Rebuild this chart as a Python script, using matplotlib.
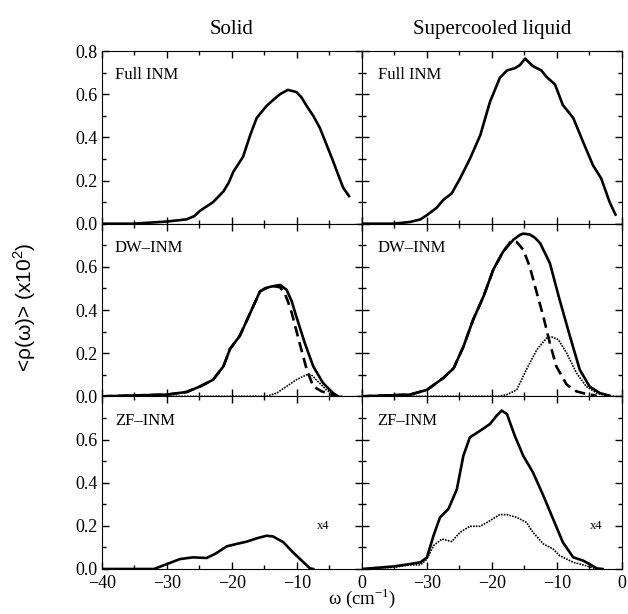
import matplotlib.pyplot as plt
from matplotlib.ticker import MultipleLocator, FixedLocator

plt.rcParams['font.family'] = ['Liberation Serif', 'DejaVu Serif']
plt.rcParams['mathtext.fontset'] = 'custom'
plt.rcParams['mathtext.rm'] = 'Liberation Serif'

# ---- Solid, full INM
s_full_w = [-40, -35.1, -30, -27, -25.8, -24.9, -22.9, -21.3, -20.5, -19.8, -18.3,
            -17.2, -16.2, -14.7, -13.6, -12.6, -11.4, -10.1, -9.3, -8.5, -7.5,
            -6.5, -5.5, -4.45, -3.7, -2.9, -2.0]
s_full_r = [0, 0, 0.01, 0.02, 0.035, 0.06, 0.10, 0.15, 0.19, 0.24, 0.31,
            0.41, 0.49, 0.545, 0.575, 0.60, 0.62, 0.61, 0.585, 0.545, 0.50,
            0.445, 0.37, 0.29, 0.23, 0.167, 0.128]

# ---- Solid, DW-INM (total, dashed part, dotted part)
s_dw_w = [-40, -30, -27, -24.9, -22.9, -21.3, -20.3, -18.8, -17.2, -15.7, -14.9,
          -14.2, -13.4, -12.6, -11.6, -10.8, -10.1, -8.8, -7.5, -6.0, -4.45, -3.7]
s_dw_r = [0, 0.008, 0.02, 0.046, 0.077, 0.14, 0.22, 0.28, 0.386, 0.486, 0.50,
          0.507, 0.512, 0.516, 0.494, 0.44, 0.37, 0.247, 0.139, 0.062, 0.015, 0]
s_dwa_w = [-40, -30, -27, -24.9, -22.9, -21.3, -20.3, -18.8, -17.2, -15.7, -14.9,
           -14.2, -13.4, -12.6, -11.9, -11.4, -10.8, -9.6, -8.5, -7.5, -6.2, -5.0, -4.2]
s_dwa_r = [0, 0.008, 0.02, 0.046, 0.077, 0.14, 0.22, 0.28, 0.386, 0.486, 0.50,
           0.507, 0.51, 0.505, 0.479, 0.44, 0.386, 0.247, 0.124, 0.046, 0.023, 0.012, 0.003]
s_dwb_w = [-40, -14.7, -13.1, -11.6, -10.1, -8.5, -7.8, -6.8, -5.5, -4.0, -3.0]
s_dwb_r = [0, 0, 0.015, 0.046, 0.077, 0.10, 0.10, 0.07, 0.03, 0.003, 0]

# ---- Solid, ZF-INM (x4)
s_zf_w = [-40, -32, -30, -28, -26, -23.9, -22.6, -20.8, -19.3, -17.7, -16.2,
          -14.7, -13.7, -12.1, -10.6, -9.0, -8.0, -7.5]
s_zf_r = [0, 0, 0.023, 0.046, 0.054, 0.051, 0.07, 0.105, 0.116, 0.127, 0.142,
          0.154, 0.151, 0.124, 0.077, 0.031, 0.003, 0]

# ---- Supercooled liquid, full INM
l_full_w = [-40, -35.1, -32.6, -31, -30, -28.5, -27.5, -26.2, -24.9, -23.4, -21.8,
            -20.3, -18.8, -17.7, -16.5, -15.7, -14.9, -14.4, -13.7, -12.4, -11.6,
            -10.3, -9.1, -7.5, -6.0, -4.45, -3.2, -1.9, -1.0]
l_full_r = [0, 0, 0.008, 0.02, 0.04, 0.074, 0.11, 0.14, 0.21, 0.30, 0.41,
            0.565, 0.675, 0.71, 0.72, 0.735, 0.765, 0.75, 0.73, 0.71, 0.68,
            0.645, 0.55, 0.49, 0.38, 0.27, 0.21, 0.10, 0.042]

# ---- Supercooled liquid, DW-INM
l_dw_w = [-40, -32.6, -30, -27.5, -25.9, -24.4, -22.9, -21.3, -19.8, -18.3, -16.7,
          -15.7, -15.2, -14.2, -13.4, -12.6, -11.1, -9.6, -8.0, -6.5, -5.0, -3.4, -1.9]
l_dw_r = [0, 0.008, 0.03, 0.085, 0.13, 0.23, 0.355, 0.463, 0.587, 0.67, 0.726,
          0.748, 0.754, 0.75, 0.735, 0.71, 0.618, 0.448, 0.278, 0.124, 0.046, 0.015, 0.003]
l_dwa_w = [-40, -32.6, -30, -27.5, -25.9, -24.4, -22.9, -21.3, -19.8, -18.3, -17.0,
           -16.2, -15.2, -14.2, -13.1, -12.1, -11.1, -10.1, -8.5, -7.0, -5.5, -3.9]
l_dwa_r = [0, 0.008, 0.03, 0.085, 0.13, 0.23, 0.355, 0.463, 0.587, 0.67, 0.722,
           0.715, 0.68, 0.602, 0.479, 0.37, 0.247, 0.139, 0.054, 0.023, 0.011, 0.003]
l_dwb_w = [-40, -19.0, -17.7, -16.2, -14.7, -13.1, -11.6, -10.8, -9.8, -8.5, -7.0,
           -5.5, -3.9, -2.4, -1.0]
l_dwb_r = [0, 0, 0.008, 0.03, 0.124, 0.216, 0.27, 0.275, 0.263, 0.2, 0.108,
           0.046, 0.015, 0.003, 0]

# ---- Supercooled liquid, ZF-INM (x4)
l_zf_w = [-40, -35.1, -32.6, -31, -30, -29, -28, -26.7, -25.4, -24.4, -23.4,
          -21.8, -20.3, -19.3, -18.5, -17.7, -16.5, -15.2, -13.7, -12.1, -10.6,
          -9.1, -7.5, -6.0, -5.0, -3.9, -3.0]
l_zf_r = [0, 0.012, 0.023, 0.031, 0.054, 0.154, 0.239, 0.278, 0.37, 0.525, 0.61,
          0.641, 0.672, 0.71, 0.734, 0.718, 0.618, 0.525, 0.448, 0.34, 0.232,
          0.124, 0.054, 0.039, 0.023, 0.003, 0]
l_zfb_w = [-40, -35.1, -32.6, -31, -30, -29, -27.7, -26.2, -24.9, -23.4, -21.8,
           -20.3, -18.8, -17.7, -16.2, -14.7, -13.7, -12.1, -10.6, -9.6, -7.5,
           -5.5, -3.9, -3.0]
l_zfb_r = [0, 0.008, 0.019, 0.019, 0.046, 0.108, 0.139, 0.127, 0.17, 0.198, 0.198,
           0.224, 0.252, 0.252, 0.239, 0.216, 0.17, 0.116, 0.093, 0.062, 0.031,
           0.015, 0, 0]

col_titles = ['Solid', 'Supercooled liquid']
row_labels = ['Full INM', 'DW\u2013INM', 'ZF\u2013INM']

fig, axs = plt.subplots(3, 2, figsize=(6.28, 6.14), dpi=100)
fig.subplots_adjust(left=0.1624, right=0.9904, bottom=0.0733, top=0.9169,
                    hspace=0, wspace=0)

solid = dict(color='black', lw=1.9, solid_joinstyle='round')
dash = dict(color='black', lw=1.9, ls=(0, (4, 2.2)))
dots = dict(color='black', lw=1.2, ls=(0, (1, 0.7)))

axs[0, 0].plot(s_full_w, s_full_r, **solid)
axs[1, 0].plot(s_dwb_w, s_dwb_r, **dots)
axs[1, 0].plot(s_dwa_w, s_dwa_r, **dash)
axs[1, 0].plot(s_dw_w, s_dw_r, **solid)
axs[2, 0].plot(s_zf_w, s_zf_r, **solid)

axs[0, 1].plot(l_full_w, l_full_r, **solid)
axs[1, 1].plot(l_dwb_w, l_dwb_r, **dots)
axs[1, 1].plot(l_dwa_w, l_dwa_r, **dash)
axs[1, 1].plot(l_dw_w, l_dw_r, **solid)
axs[2, 1].plot(l_zfb_w, l_zfb_r, **dots)
axs[2, 1].plot(l_zf_w, l_zf_r, **solid)

for r in range(3):
    for c in range(2):
        ax = axs[r, c]
        ax.set_xlim(-40, 0)
        ax.set_ylim(0, 0.8)
        ax.xaxis.set_major_locator(MultipleLocator(10))
        ax.xaxis.set_minor_locator(MultipleLocator(5))
        ax.yaxis.set_major_locator(MultipleLocator(0.2))
        ax.yaxis.set_minor_locator(MultipleLocator(0.1))
        ax.tick_params(which='both', direction='in', top=True, right=True,
                       labelsize=13, width=1)
        ax.tick_params(which='major', length=5)
        ax.tick_params(which='minor', length=3)
        ax.tick_params(axis='x', pad=4)
        ax.text(0.05 if c == 0 else 0.06, 0.86, row_labels[r], transform=ax.transAxes,
                fontsize=12, va='center', ha='left')
        if c == 1:
            ax.tick_params(labelleft=False)
        else:
            ax.yaxis.set_major_formatter(plt.FuncFormatter(lambda v, p: '%.1f' % v))
            if r > 0:
                ax.yaxis.set_major_locator(FixedLocator([0, 0.2, 0.4, 0.6]))
        if r < 2:
            ax.tick_params(labelbottom=False)
        elif c == 1:
            # right column drops the -40 label (it would sit on the left column's 0)
            ax.xaxis.set_major_locator(FixedLocator([-30, -20, -10, 0]))
            ax.xaxis.set_minor_locator(FixedLocator([-35, -25, -15, -5]))

axs[2, 0].text(-6.0, 0.2, 'x4', fontsize=9, ha='center', va='center')
axs[2, 1].text(-3.9, 0.2, 'x4', fontsize=9, ha='center', va='center')

axs[0, 0].set_title(col_titles[0], fontsize=15, pad=12)
axs[0, 1].set_title(col_titles[1], fontsize=15, pad=12)

fig.text(0.04, 0.5, '<\u03c1(\u03c9)> (x10$^{\\mathregular{2}}$)', rotation=90,
         ha='center', va='center', fontsize=15, family=['Liberation Sans', 'DejaVu Sans'])
fig.text(0.577, 0.026, '\u03c9 (cm$^{\\mathregular{-1}}$)', ha='center', va='center',
         fontsize=13.5)

fig.savefig('out.png', dpi=100)
